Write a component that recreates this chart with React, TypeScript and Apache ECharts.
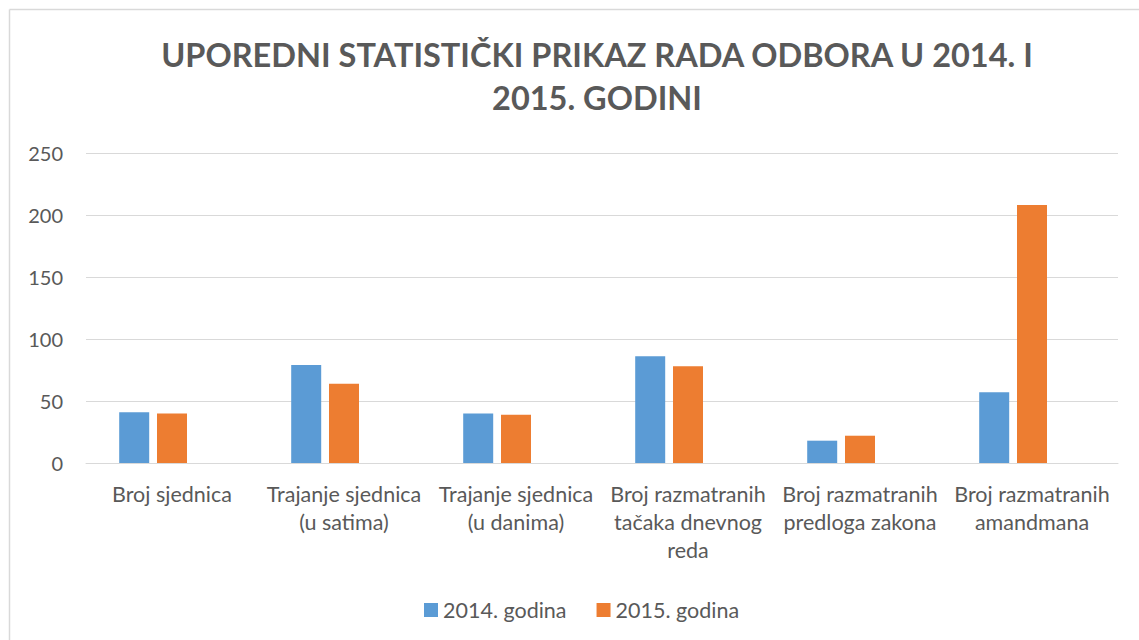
import React, { useEffect, useRef } from "react";
import * as echarts from "echarts";

const titleLines = ["UPOREDNI STATISTIČKI PRIKAZ RADA ODBORA U 2014. I", "2015. GODINI"];
const categories = [
  "Broj sjednica",
  "Trajanje sjednica\n(u satima)",
  "Trajanje sjednica\n(u danima)",
  "Broj razmatranih\ntačaka dnevnog\nreda",
  "Broj razmatranih\npredloga zakona",
  "Broj razmatranih\namandmana",
];
const series2014 = [41, 79, 40, 86, 18, 57];
const series2015 = [40, 64, 39, 78, 22, 208];
const seriesEmpty = ["-", "-", "-", "-", "-", "-"];
const seriesNames = ["2014. godina", "2015. godina"];
const yTicks = { min: 0, max: 250, interval: 50 };

const FONT = "Lato, 'Noto Sans', sans-serif";
const TEXT = "#595959";
const GRID = "#d9d9d9";

export default function App() {
  const ref = useRef<HTMLDivElement>(null);
  useEffect(() => {
    if (!ref.current) return;
    const chart = echarts.init(ref.current, undefined, { renderer: "svg" });
    chart.setOption({
      animation: false,
      backgroundColor: "#ffffff",
      textStyle: { fontFamily: FONT },
      graphic: [
        { type: "line", shape: { x1: 9.5, y1: 9.5, x2: 1139, y2: 9.5 }, style: { stroke: GRID, lineWidth: 1.5 } },
        { type: "line", shape: { x1: 9.5, y1: 9.5, x2: 9.5, y2: 640 }, style: { stroke: GRID, lineWidth: 1.5 } },
        {
          type: "text",
          x: 597,
          y: 54,
          style: {
            text: titleLines[0],
            fill: TEXT,
            font: `bold 32.5px ${FONT}`,
            textAlign: "center",
            textVerticalAlign: "middle",
          },
        },
        {
          type: "text",
          x: 597,
          y: 97,
          style: {
            text: titleLines[1],
            fill: TEXT,
            font: `bold 32.5px ${FONT}`,
            textAlign: "center",
            textVerticalAlign: "middle",
          },
        },
      ],
      legend: {
        data: seriesNames,
        left: 419,
        top: 594,
        itemWidth: 14,
        itemHeight: 14,
        itemGap: 30,
        icon: "rect",
        textStyle: { color: TEXT, fontSize: 21.5, fontFamily: FONT },
      },
      grid: { left: 86, right: 21, top: 153, bottom: 177 },
      xAxis: {
        type: "category",
        data: categories,
        axisLine: { show: true, lineStyle: { color: GRID, width: 1 } },
        axisTick: { show: false },
        axisLabel: {
          color: TEXT,
          fontSize: 21.5,
          fontFamily: FONT,
          lineHeight: 28,
          margin: 17,
          interval: 0,
        },
      },
      yAxis: {
        type: "value",
        min: yTicks.min,
        max: yTicks.max,
        interval: yTicks.interval,
        axisLine: { show: false },
        axisTick: { show: false },
        splitLine: { lineStyle: { color: GRID, width: 1 } },
        axisLabel: { color: TEXT, fontSize: 20, fontFamily: FONT, margin: 23 },
      },
      series: [
        { name: seriesNames[0], type: "bar", data: series2014, barWidth: 30, barGap: "26%", itemStyle: { color: "#5B9BD5" } },
        { name: seriesNames[1], type: "bar", data: series2015, barWidth: 30, barGap: "26%", itemStyle: { color: "#ED7D31" } },
        { name: "empty", type: "bar", data: seriesEmpty, barWidth: 30, barGap: "26%", itemStyle: { color: "#A5A5A5" } },
      ],
    });
    return () => chart.dispose();
  }, []);
  return <div ref={ref} style={{ position: "fixed", left: 0, top: 0, width: 1139, height: 640 }} />;
}
